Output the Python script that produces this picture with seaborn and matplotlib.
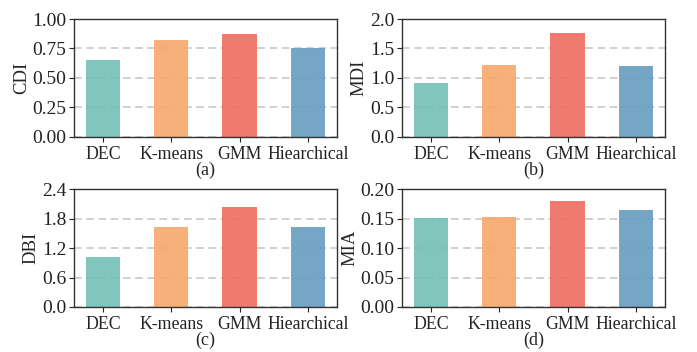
import numpy as np
import pandas as pd
import matplotlib
matplotlib.use("Agg")
import matplotlib.pyplot as plt
import seaborn as sns

methods = ["DEC", "K-means", "GMM", "Hiearchical"]
cdi = [0.652, 0.822, 0.873, 0.751]
mdi = [0.912, 1.218, 1.762, 1.201]
dbi = [1.022, 1.639, 2.050, 1.639]
mia = [0.1509, 0.1537, 0.1794, 0.1657]

colors = ["#72C0B6", "#F8A86C", "#F06C5F", "#679DC0"]

sns.set_theme(style="ticks")
plt.rcParams["font.family"] = ["Liberation Serif", "DejaVu Serif"]

fig, axes = plt.subplots(2, 2, figsize=(6.97, 3.52), dpi=100)
fig.subplots_adjust(left=0.106, right=0.954, top=0.946, bottom=0.128,
                    wspace=0.247, hspace=0.449)

panels = [
    (cdi, "CDI", "(a)", [0, 0.25, 0.5, 0.75, 1.0], "%.2f"),
    (mdi, "MDI", "(b)", [0, 0.5, 1.0, 1.5, 2.0], "%.1f"),
    (dbi, "DBI", "(c)", [0, 0.6, 1.2, 1.8, 2.4], "%.1f"),
    (mia, "MIA", "(d)", [0, 0.05, 0.10, 0.15, 0.20], "%.2f"),
]

for ax, (vals, name, tag, yt, fmt) in zip(axes.flat, panels):
    df = pd.DataFrame({"method": methods, "value": vals})
    sns.barplot(data=df, x="method", y="value", hue="method", palette=colors,
                width=0.5, legend=False, alpha=0.9, ax=ax, saturation=1,
                linewidth=0)
    ax.set_xlim(-0.425, 3.425)
    ax.set_ylim(yt[0], yt[-1])
    ax.set_yticks(yt)
    ax.set_yticklabels([fmt % t for t in yt])
    ax.set_axisbelow(True)
    ax.yaxis.grid(True, linestyle=(0, (5, 3)), color="#c4c4c4", linewidth=1.1)
    ax.set_ylabel(name, fontsize=13.5, labelpad=1.5)
    ax.set_xlabel(tag, fontsize=13, labelpad=-1)
    ax.tick_params(axis="x", labelsize=12.8, length=3.5, width=0.8,
                   colors="#222222", pad=3)
    ax.tick_params(axis="y", labelsize=14, length=3.5, width=0.8,
                   colors="#222222", pad=2)
    for sp in ax.spines.values():
        sp.set_visible(True)
        sp.set_color("#333333")
        sp.set_linewidth(1.0)

fig.savefig("out.png", dpi=100)
